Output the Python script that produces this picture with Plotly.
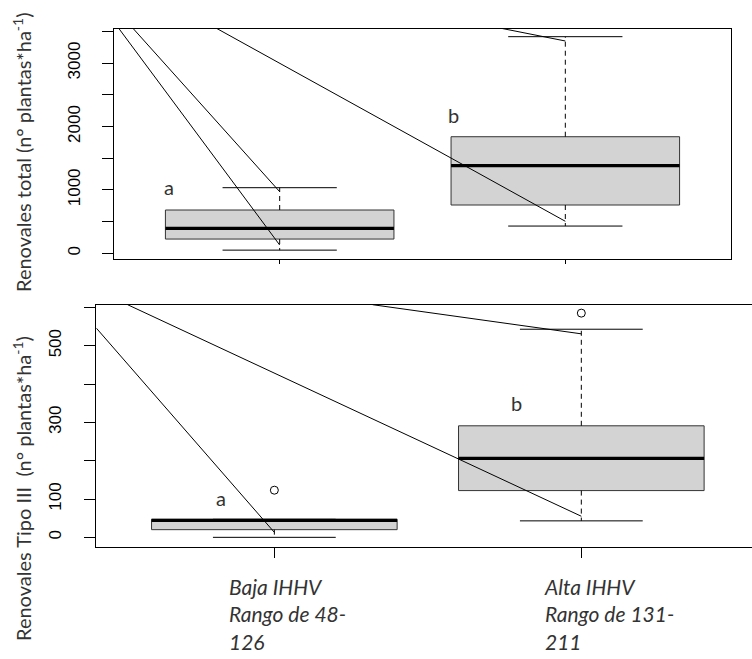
import plotly.graph_objects as go

# ---------------- data ----------------
positions = [1, 2]
group_labels = ["<i>Baja IHHV<br>Rango de 48-<br>126</i>", "<i>Alta IHHV<br>Rango de 131-<br>211</i>"]

# top panel: Renovales total
top_lower = [50, 430]
top_q1 = [225, 762]
top_median = [394, 1382]
top_q3 = [683, 1839]
top_upper = [1035, 3417]
top_letters = ["a", "b"]
top_letter_x = [0.614, 1.61]
top_letter_y = [1038, 2181]
top_ticks = [0, 1000, 2000, 3000]
top_ticklabels = ["0", "1000", "2000", "3000"]
top_minor_step = 500
# stray segments (start x, start y, end x, end y)
top_seg_x0 = [0.437, 0.487, 0.780, 1.779]
top_seg_y0 = [3546, 3546, 3546, 3546]
top_seg_x1 = [1, 1, 2, 2]
top_seg_y1 = [131, 972, 505, 3349]

# bottom panel: Renovales Tipo III
bot_lower = [0, 43]
bot_q1 = [20, 122]
bot_median = [44, 206]
bot_q3 = [47, 291]
bot_upper = [47, 543]
bot_outliers = [123, 585]
bot_letters = ["a", "b"]
bot_letter_x = [0.826, 1.79]
bot_letter_y = [102, 350]
bot_ticks = [0, 100, 300, 500]
bot_ticklabels = ["0", "100", "300", "500"]
bot_minor_step = 100
bot_seg_x0 = [0.42, 0.522, 1.32]
bot_seg_y0 = [546, 607, 607]
bot_seg_x1 = [1, 2, 2]
bot_seg_y1 = [13, 55, 531]

BOXW = 0.4
CAPW = 0.2
TITLE_FONT = "Lato"
TICK_FONT = "Liberation Sans"
TEXT_COLOR = "#333333"

fig = go.Figure()


def add_boxes(xa, ya, lower, q1, med, q3, upper):
    for p, lo, a, m, b, up in zip(positions, lower, q1, med, q3, upper):
        fig.add_trace(go.Scatter(
            x=[p - BOXW, p + BOXW, p + BOXW, p - BOXW, p - BOXW],
            y=[a, a, b, b, a], mode="lines", fill="toself",
            fillcolor="#D3D3D3", line=dict(color="#333333", width=1),
            xaxis=xa, yaxis=ya, hoverinfo="skip"))
        fig.add_trace(go.Scatter(
            x=[p, p, None, p, p], y=[b, up, None, a, lo], mode="lines",
            line=dict(color="black", width=1, dash="5px,4px"),
            xaxis=xa, yaxis=ya, hoverinfo="skip"))
        fig.add_trace(go.Scatter(
            x=[p - CAPW, p + CAPW, None, p - CAPW, p + CAPW],
            y=[up, up, None, lo, lo], mode="lines",
            line=dict(color="black", width=1),
            xaxis=xa, yaxis=ya, hoverinfo="skip"))
        fig.add_trace(go.Scatter(
            x=[p - BOXW, p + BOXW], y=[m, m], mode="lines",
            line=dict(color="black", width=3.2),
            xaxis=xa, yaxis=ya, hoverinfo="skip"))


def add_segments(xa, ya, x0, y0, x1, y1):
    xs, ys = [], []
    for a, b, c, d in zip(x0, y0, x1, y1):
        xs += [a, c, None]
        ys += [b, d, None]
    fig.add_trace(go.Scatter(x=xs, y=ys, mode="lines",
                             line=dict(color="black", width=1),
                             xaxis=xa, yaxis=ya, hoverinfo="skip"))


add_boxes("x", "y", top_lower, top_q1, top_median, top_q3, top_upper)
add_segments("x", "y", top_seg_x0, top_seg_y0, top_seg_x1, top_seg_y1)

add_boxes("x2", "y2", bot_lower, bot_q1, bot_median, bot_q3, bot_upper)
fig.add_trace(go.Scatter(x=positions, y=bot_outliers, mode="markers",
                         marker=dict(symbol="circle-open", size=8,
                                     color="black", line=dict(width=1)),
                         xaxis="x2", yaxis="y2", hoverinfo="skip"))
add_segments("x2", "y2", bot_seg_x0, bot_seg_y0, bot_seg_x1, bot_seg_y1)

W, H = 752, 659


def px_x(v):
    return v / W


def px_y(v):
    return 1 - v / H


axis_common = dict(showgrid=False, zeroline=False, showline=True,
                   linecolor="black", linewidth=1, ticks="outside",
                   tickcolor="black", tickwidth=1)

fig.update_layout(
    width=W, height=H, margin=dict(l=0, r=0, t=0, b=0),
    paper_bgcolor="white", plot_bgcolor="white", showlegend=False,
    xaxis=dict(axis_common, domain=[px_x(114), px_x(731)], range=[0.42, 2.58],
               tickvals=positions, showticklabels=False, ticklen=4, mirror=True,
               anchor="y"),
    yaxis=dict(axis_common, domain=[px_y(258.7), px_y(28.5)], range=[-85, 3546],
               tickvals=top_ticks, ticktext=top_ticklabels, ticklen=11,
               minor=dict(tick0=0, dtick=top_minor_step, ticklen=11, ticks="outside",
                          tickcolor="black", tickwidth=1, showgrid=False),
               tickangle=-90, mirror=True, anchor="x", ticklabelstandoff=15,
               tickfont=dict(family=TICK_FONT, size=17, color="black")),
    # bottom panel runs past the right edge of the page in the reference
    xaxis2=dict(axis_common, domain=[px_x(96.3), 1], range=[0.42, 2.556],
                tickvals=positions, showticklabels=False, ticklen=10, mirror=True,
                anchor="y2"),
    yaxis2=dict(axis_common, domain=[px_y(547.3), px_y(304.7)], range=[-26, 607],
                tickvals=bot_ticks, ticktext=bot_ticklabels, ticklen=11,
                minor=dict(tick0=0, dtick=bot_minor_step, ticklen=11, ticks="outside",
                           tickcolor="black", tickwidth=1, showgrid=False),
                tickangle=-90, anchor="x2", ticklabelstandoff=17,
                tickfont=dict(family=TICK_FONT, size=17, color="black")),
)

annotations = [
    dict(text="Renovales total (n° plantas*ha<sup>-1</sup>)", textangle=-90,
         x=px_x(22), y=px_y(152), xref="paper", yref="paper",
         xanchor="center", yanchor="middle",
         showarrow=False, font=dict(family=TITLE_FONT, size=20, color=TEXT_COLOR)),
    dict(text="Renovales Tipo III \u00a0(n° plantas*ha<sup>-1</sup>)", textangle=-90,
         x=px_x(22), y=px_y(489), xref="paper", yref="paper",
         xanchor="center", yanchor="middle",
         showarrow=False, font=dict(family=TITLE_FONT, size=20, color=TEXT_COLOR)),
]
for lx, ly, t in zip(top_letter_x, top_letter_y, top_letters):
    annotations.append(dict(text=t, x=lx, y=ly, xref="x", yref="y", showarrow=False,
                            font=dict(family=TITLE_FONT, size=20, color=TEXT_COLOR)))
for lx, ly, t in zip(bot_letter_x, bot_letter_y, bot_letters):
    annotations.append(dict(text=t, x=lx, y=ly, xref="x2", yref="y2", showarrow=False,
                            font=dict(family=TITLE_FONT, size=20, color=TEXT_COLOR)))
for p, lab in zip(positions, group_labels):
    annotations.append(dict(text=lab, x=p, xref="x2", y=px_y(572), yref="paper",
                            xanchor="left", yanchor="top", align="left",
                            xshift=-47 if p == 1 else -39,
                            showarrow=False,
                            font=dict(family=TITLE_FONT, size=21, color=TEXT_COLOR)))
fig.update_layout(annotations=annotations)

fig.write_html(
    "out.html",
    config={"displayModeBar": False},
    post_script="document.body.style.margin='0';document.body.style.overflow='hidden';",
)
